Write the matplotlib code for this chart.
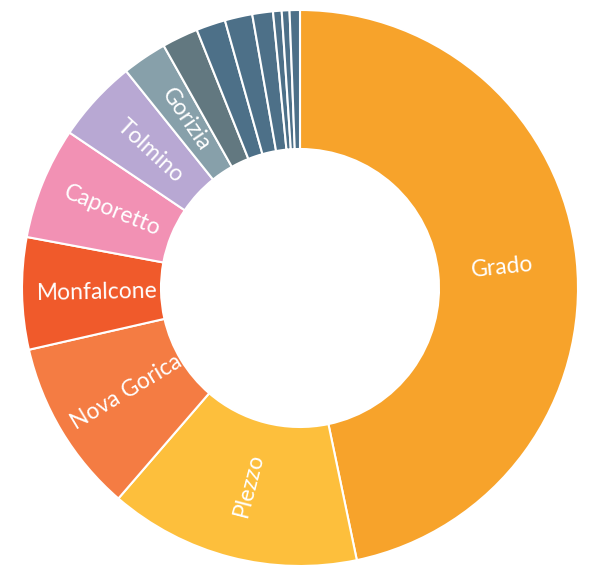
import numpy as np
import matplotlib.pyplot as plt

# Slices, clockwise from 12 o'clock
towns = ["Grado", "Plezzo", "Nova Gorica", "Monfalcone", "Caporetto", "Tolmino", "Gorizia",
         "Other 1", "Other 2", "Other 3", "Other 4", "Other 5", "Other 6", "Other 7"]
shares = [46.7, 14.6, 10.1, 6.5, 6.5, 4.8, 2.6, 2.1, 1.7, 1.6, 1.2, 0.5, 0.45, 0.6]
show_label = [True, True, True, True, True, True, True,
              False, False, False, False, False, False, False]
colors = ["#F7A32B", "#FDBF3C", "#F47C43", "#F05A2B", "#F291B4", "#B8A8D3", "#87A0AA",
          "#627880", "#4D7088", "#4D7088", "#4D7088", "#4D7088", "#4D7088", "#4D7088"]

fig = plt.figure(figsize=(5.91, 5.66), dpi=100)
ax = fig.add_axes([22 / 591, 0, 556 / 591, 556 / 566])

wedges, _ = ax.pie(shares, colors=colors, startangle=90, counterclock=False, radius=1,
                   wedgeprops=dict(width=0.5, edgecolor="white", linewidth=1.5))

# Labels placed radially in the middle of the ring
for w, name, show in zip(wedges, towns, show_label):
    if not show:
        continue
    mid = (w.theta1 + w.theta2) / 2
    r = 0.73
    x = r * np.cos(np.radians(mid))
    y = r * np.sin(np.radians(mid))
    rot = mid % 360
    if 90 < rot < 270:
        rot -= 180
    elif rot >= 270:
        rot -= 360
    ax.text(x, y, name, rotation=rot, rotation_mode="anchor", ha="center", va="center",
            color="white", fontsize=16.5, family="Lato")

ax.set_xlim(-1, 1)
ax.set_ylim(-1, 1)
ax.set_aspect("equal")
ax.axis("off")

fig.savefig("out.png", dpi=100)
